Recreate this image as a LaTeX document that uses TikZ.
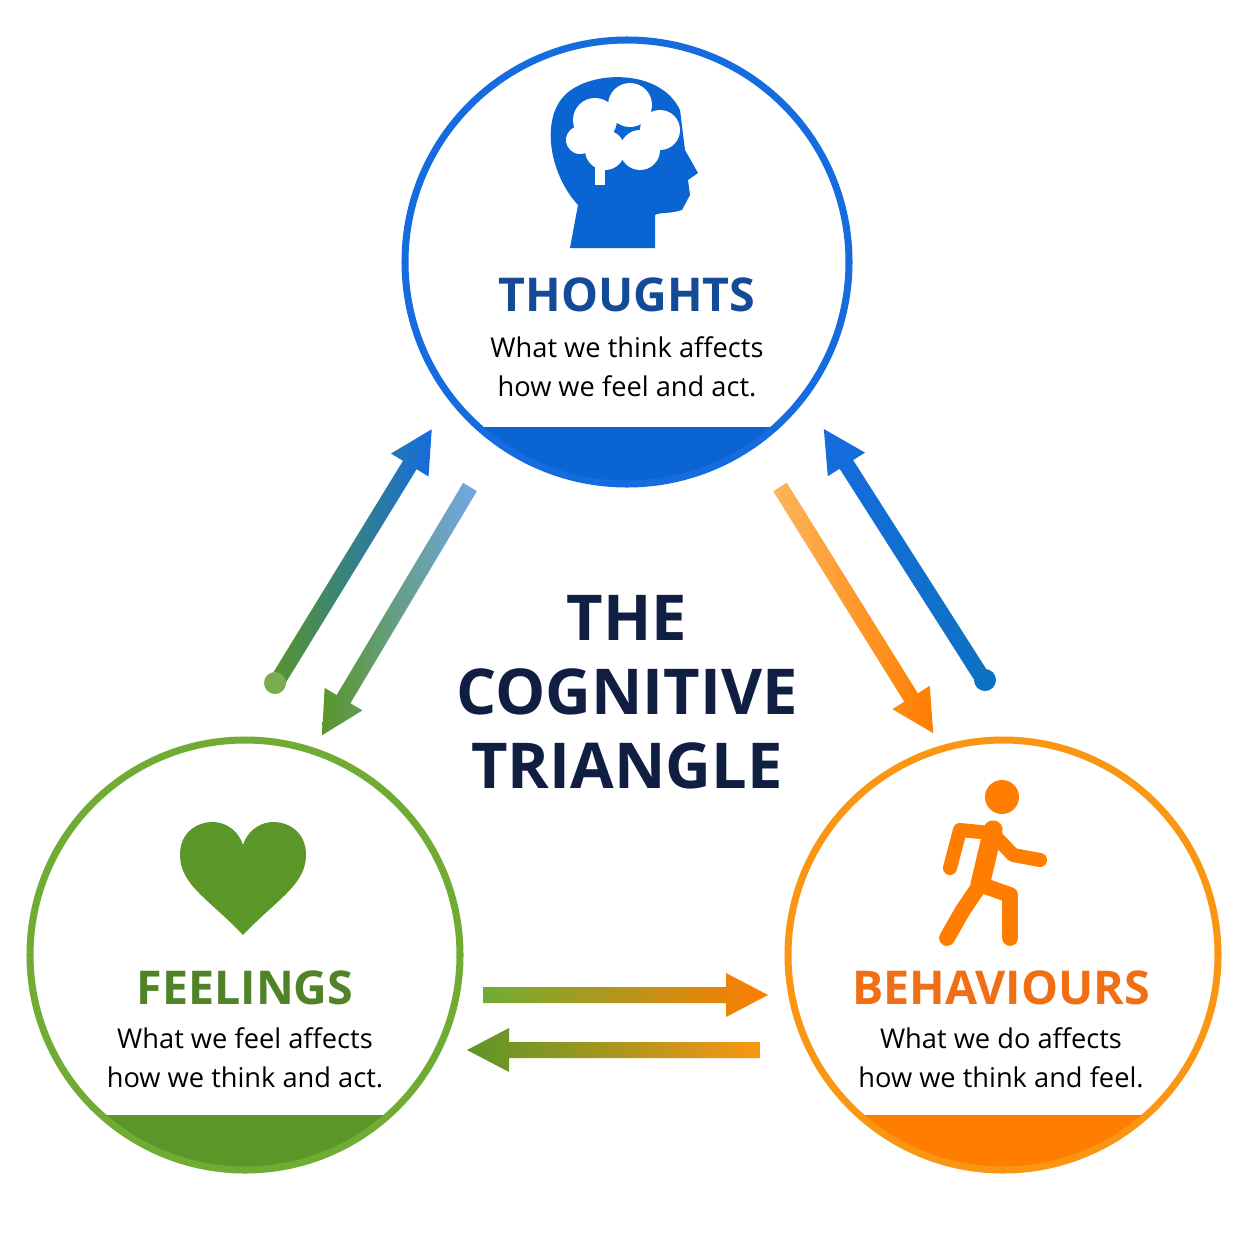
\documentclass[tikz,border=0pt]{standalone}
\usepackage{fontspec}
\setmainfont{Open Sans}
\begin{document}
\begin{tikzpicture}[x=0.02cm,y=-0.02cm,
  title/.style={font=\bfseries\fontsize{26.5}{30}\selectfont},
  sub/.style={font=\fontsize{15.5}{22}\selectfont,align=center,text=black},
  big/.style={font=\bfseries\fontsize{36}{44}\selectfont,align=center,text=navy}]
\definecolor{navy}{RGB}{15,30,65}
\definecolor{bl}{RGB}{20,108,222}
\definecolor{blband}{RGB}{10,100,210}
\definecolor{bltxt}{RGB}{20,75,150}
\definecolor{gr}{RGB}{112,172,52}
\definecolor{grband}{RGB}{90,150,40}
\definecolor{grtxt}{RGB}{80,130,40}
\definecolor{orr}{RGB}{250,150,20}
\definecolor{orband}{RGB}{255,125,0}
\definecolor{ortxt}{RGB}{240,110,20}
\useasboundingbox (0,0) rectangle (1254,1254);
\fill[white] (0,0) rectangle (1254,1254);
% circles
\begin{scope}\clip (627,262) circle (222);\fill[blband] (300,427) rectangle (950,500);\end{scope}
\draw[bl,line width=4pt] (627,262) circle (222);
\begin{scope}\clip (245,955) circle (215);\fill[grband] (0,1115) rectangle (500,1200);\end{scope}
\draw[gr,line width=4pt] (245,955) circle (215);
\begin{scope}\clip (1003,955) circle (215);\fill[orband] (750,1115) rectangle (1254,1200);\end{scope}
\draw[orr,line width=4pt] (1003,955) circle (215);
% texts
\node[title,text=bltxt] (t) at (627,295) {THOUGHTS};
\node[sub] (ts) at (627,367) {What we think affects\\how we feel and act.};
\node[title,text=grtxt] (f) at (245,988) {FEELINGS};
\node[sub] (fs) at (245,1058) {What we feel affects\\how we think and act.};
\node[title,text=ortxt] (b) at (1001,988) {BEHAVIOURS};
\node[sub] (bs) at (1001,1058) {What we do affects\\how we think and feel.};
\node[big] (c) at (627,692) {THE\\[-2pt]COGNITIVE\\[-2pt]TRIANGLE};
% arrows
\newcommand\garrow[6]{% x y angle length c1 c2
\begin{scope}[shift={(#1,#2)},rotate=#3]
\shade[left color=#5,right color=#6] (0,-8) -- (#4-42,-8) -- (#4-42,-22) -- (#4,0) -- (#4-42,22) -- (#4-42,8) -- (0,8) -- cycle;
\end{scope}}
\garrow{275}{685}{58.5}{300}{grband}{bl}
\fill[grband!80] (275,683) circle (11);
\garrow{470}{487}{239.2}{289}{grband}{bl!60}
\garrow{780}{487}{-58.1}{290}{orr!70}{orband}
\garrow{985}{682}{122.5}{300}{bl}{bl!70!teal}
\fill[bl!70!teal] (985,680) circle (11);
\garrow{483}{995}{0}{285}{gr}{orband}
\garrow{760}{1050}{180}{293}{grband}{orr}
% head icon
\fill[blband] (570,248) -- (578,205) .. controls (550,175) and (540,120) .. (565,95)
  .. controls (590,70) and (660,68) .. (680,110) -- (685,150) -- (698,173) -- (688,180)
  -- (690,195) -- (682,210) .. controls (670,214) and (660,212) .. (655,215) -- (655,248) -- cycle;
\fill[white] (595,120) circle (22) (630,105) circle (22) (660,130) circle (20) (640,150) circle (20) (605,150) circle (20) (580,140) circle (14);
\fill[white] (595,160) rectangle (605,185);
% heart
\fill[grband] (243,935) .. controls (210,900) and (180,885) .. (180,855)
  .. controls (180,830) and (200,822) .. (212,822) .. controls (230,822) and (240,835) .. (243,845)
  .. controls (246,835) and (256,822) .. (274,822) .. controls (286,822) and (306,830) .. (306,855)
  .. controls (306,885) and (276,900) .. (243,935) -- cycle;
% walker
\fill[orband] (1002,797) circle (17);
\draw[orband,line width=11pt,line cap=round,line join=round] (993,830) -- (980,885);
\draw[orband,line width=8pt,line cap=round,line join=round] (990,833) -- (960,830) -- (950,868);
\draw[orband,line width=8pt,line cap=round,line join=round] (995,836) -- (1013,855) -- (1040,860);
\draw[orband,line width=9pt,line cap=round,line join=round] (980,885) -- (963,910) -- (947,938);
\draw[orband,line width=9pt,line cap=round,line join=round] (982,885) -- (1010,895) -- (1010,938);
\end{tikzpicture}
\end{document}
